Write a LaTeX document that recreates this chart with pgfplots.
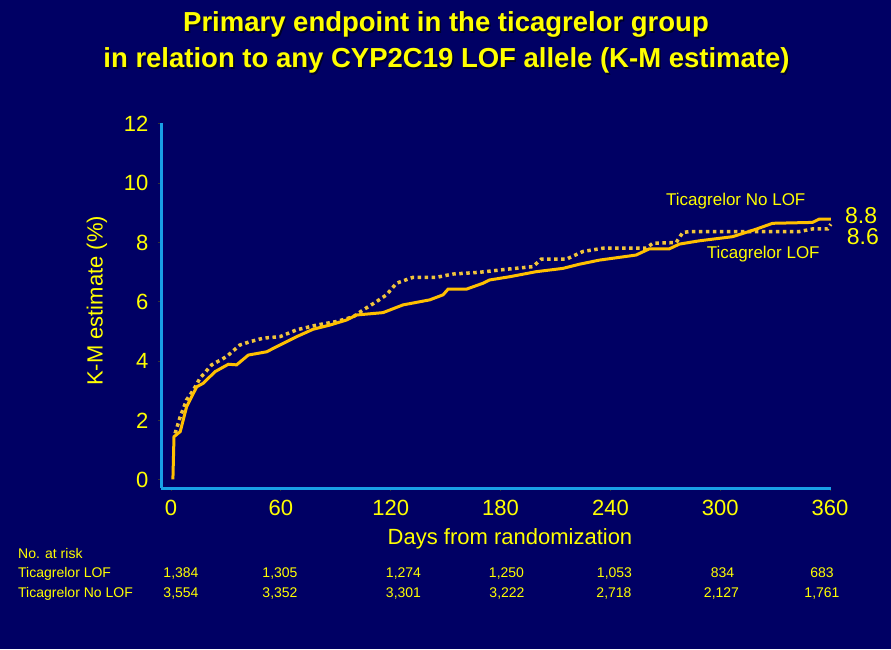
\documentclass[border=0pt]{standalone}
\usepackage{fontspec}
\setmainfont{Liberation Sans}
\usepackage{pgfplots}
\pgfplotsset{compat=1.18}
\definecolor{bg}{RGB}{0,0,100}
\definecolor{axblue}{RGB}{25,160,230}
\definecolor{gold}{RGB}{255,192,0}
\definecolor{golddot}{RGB}{240,196,60}
\definecolor{txt}{RGB}{255,255,0}
\definecolor{shadow}{RGB}{0,0,40}

\pgfplotstableread{
day val
1 0.02
1.6 1.46
5 1.63
8.5 2.47
14 3.14
17.6 3.26
24 3.65
31.3 3.90
35.8 3.88
42.2 4.21
52.2 4.32
59.5 4.55
68.6 4.83
77.6 5.08
86.7 5.22
95.8 5.39
101.3 5.56
115.8 5.64
126.7 5.90
141.3 6.07
148.6 6.24
151.3 6.43
161.3 6.43
170.4 6.63
174 6.74
185 6.85
199.5 7.02
214 7.13
223 7.27
234 7.41
254 7.58
261.3 7.79
272.2 7.79
277.7 7.95
288.6 8.06
306.8 8.20
319.5 8.45
328.6 8.65
350.4 8.68
354 8.79
360.4 8.79
}\solidtab

\pgfplotstableread{
day val
2.2 1.57
5 2.13
8.5 2.70
12.2 3.03
15.8 3.43
22.2 3.88
30.4 4.16
37.6 4.55
43.1 4.66
50.4 4.78
59.5 4.83
68.6 5.06
79.5 5.22
90.4 5.34
99.5 5.50
104.9 5.73
112.2 6.01
117.7 6.24
123.1 6.63
132.2 6.83
145 6.83
154 6.94
168.6 7.00
183 7.10
197.7 7.19
202.2 7.44
215.9 7.44
225 7.70
235.9 7.81
259.5 7.81
263.2 7.98
275.9 8.00
279.5 8.34
283.1 8.37
343.1 8.37
350.4 8.46
358.6 8.46
360.4 8.62
}\dottab

\begin{document}
\begin{tikzpicture}[x=1pt,y=1pt]
\fill[bg] (0,0) rectangle (891,649);
% title with shadow
\foreach \dx/\dy/\c in {1.5/-1.5/shadow,0/0/txt}{
  \node[font=\fontsize{27.5}{32}\selectfont\bfseries,text=\c,anchor=base,inner sep=0]
    at (446+\dx,617.3+\dy) {Primary endpoint in the ticagrelor group};
  \node[font=\fontsize{27.5}{32}\selectfont\bfseries,text=\c,anchor=base,inner sep=0]
    at (446.5+\dx,581.3+\dy) {in relation to any CYP2C19 LOF allele (K-M estimate)};
}
\begin{axis}[at={(161pt,161pt)},anchor=south west,scale only axis,
  width=670pt,height=365pt,
  xmin=-5.5,xmax=360.5,ymin=-0.27,ymax=12.03,
  axis x line=bottom,axis y line=left,
  axis line style={-,axblue,line width=3pt},
  xtick={0,60,...,360},ytick={0,2,...,12},
  tick align=outside,major tick length=3pt,
  tick style={black!80,line width=1pt},
  /pgf/number format/assume math mode=true,
  ticklabel style={font=\fontsize{22}{26}\selectfont,text=txt},
  xticklabel style={yshift=-6pt},
  yticklabel style={xshift=-6pt},
  clip=false]
\addplot[golddot,line width=3.5pt,dash pattern=on 3.5pt off 3.5pt] table[x=day,y=val]{\dottab};
\addplot[gold,line width=3pt] table[x=day,y=val]{\solidtab};
\end{axis}
% axis titles
\node[font=\fontsize{22}{26}\selectfont,text=txt,anchor=base] at (510,105) {Days from randomization};
\node[font=\fontsize{22}{26}\selectfont,text=txt,rotate=90] at (97,348) {K-M estimate (\%)};
% curve labels
\node[font=\fontsize{17}{20}\selectfont,text=txt,anchor=base west,inner sep=0] at (666,443.3) {Ticagrelor No LOF};
\node[font=\fontsize{17}{20}\selectfont,text=txt,anchor=base west,inner sep=0] at (706.7,391) {Ticagrelor LOF};
\node[font=\fontsize{23}{26}\selectfont,text=txt,anchor=base west,inner sep=0] at (845,425.7) {8.8};
\node[font=\fontsize{23}{26}\selectfont,text=txt,anchor=base west,inner sep=0] at (846.7,404) {8.6};
% number at risk
\begin{scope}[every node/.style={font=\fontsize{14}{16}\selectfont,text=txt,anchor=base,inner sep=0}]
\node[anchor=base west] at (18,91) {No. at risk};
\node[anchor=base west] at (18,72) {Ticagrelor LOF};
\node[anchor=base west] at (18,52) {Ticagrelor No LOF};
\foreach \xx/\v in {181/{1,384},280/{1,305},403.5/{1,274},506.5/{1,250},614.5/{1,053},722.5/{834},822/{683}}
  \node at (\xx,72) {\v};
\foreach \xx/\v in {181/{3,554},280/{3,352},403.5/{3,301},507/{3,222},614/{2,718},721.5/{2,127},822/{1,761}}
  \node at (\xx,52) {\v};
\end{scope}
\end{tikzpicture}
\end{document}
